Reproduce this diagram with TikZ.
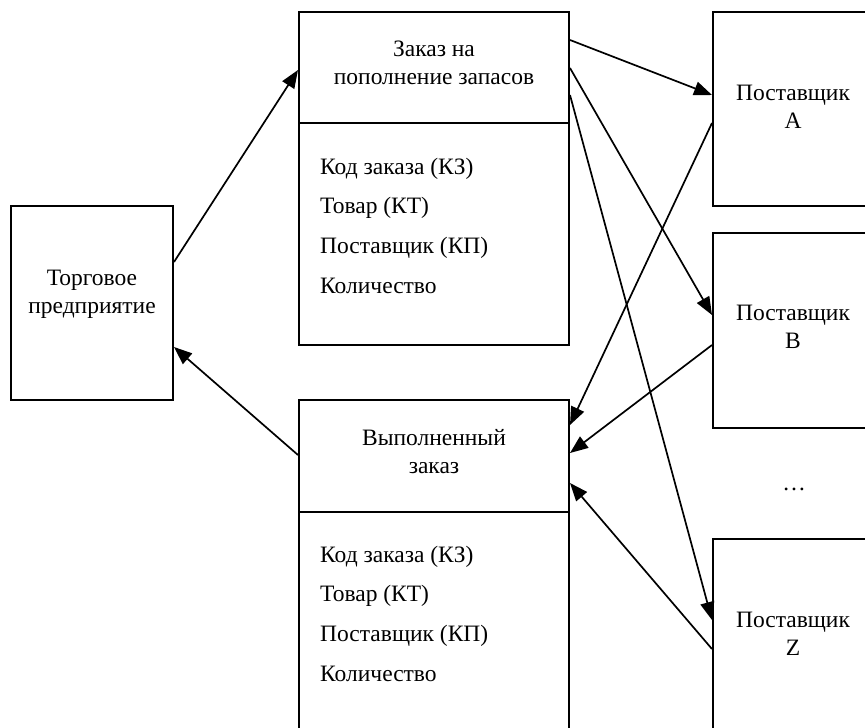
\documentclass[tikz,border=0pt]{standalone}
\usepackage{fontspec}
\setmainfont{Liberation Serif}
\usetikzlibrary{arrows.meta}
\begin{document}
\begin{tikzpicture}[x=1pt,y=-1pt,
  box/.style={draw,line width=2pt,inner sep=0pt,minimum width=#1},
  arr/.style={line width=1.7pt,-{Triangle[length=18pt,width=14pt]}},
  lbl/.style={font=\fontsize{23.5}{27.5}\selectfont,inner sep=0pt,anchor=base,align=center},
  lst/.style={font=\fontsize{23.5}{39.6}\selectfont,inner sep=0pt,anchor=base west,align=left}]
\useasboundingbox (0,0) rectangle (865,728);
\clip (0,0) rectangle (865,728);
% boxes
\node[box=162pt,minimum height=194pt] (trade) at (92,303) {};
\node[box=270pt,minimum height=333pt] (ord) at (434,178.5) {};
\node[box=270pt,minimum height=333pt] (done) at (434,566.5) {};
\node[box=160pt,minimum height=194pt] (A) at (793,109) {};
\node[box=160pt,minimum height=195pt] (B) at (793,330.5) {};
\node[box=160pt,minimum height=194pt] (Z) at (793,636) {};
\draw[line width=2pt] (ord.west |- 0,123) -- (ord.east |- 0,123);
\draw[line width=2pt] (done.west |- 0,512) -- (done.east |- 0,512);
% texts (anchored at the baseline of the last line)
\node[lbl] (tradet) at (92,313) {Торговое\\предприятие};
\node[lbl] (ordt) at (434,84) {Заказ на\\пополнение запасов};
\node[lst] (ordl) at (320,293) {Код заказа (КЗ)\\Товар (КТ)\\Поставщик (КП)\\Количество};
\node[lbl] (donet) at (434,473) {Выполненный\\заказ};
\node[lst] (donel) at (320,681) {Код заказа (КЗ)\\Товар (КТ)\\Поставщик (КП)\\Количество};
\node[lbl] (At) at (793,128) {Поставщик\\A};
\node[lbl] (Bt) at (793,348) {Поставщик\\B};
\node[lbl] (Zt) at (793,655) {Поставщик\\Z};
\node[lbl] (dots) at (794,490) {\dots};
% connectors
\draw[arr] (trade.east |- 0,262) -- (ord.west |- 0,70);
\draw[arr] (done.west |- 0,455) -- (trade.east |- 0,347);
\draw[arr] (ord.east |- 0,40) -- (A.west |- 0,95);
\draw[arr] (ord.east |- 0,68) -- (B.west |- 0,315);
\draw[arr] (ord.east |- 0,95) -- (Z.west |- 0,620);
\draw[arr] (A.west |- 0,123) -- (done.east |- 0,425);
\draw[arr] (B.west |- 0,345) -- (done.east |- 0,453);
\draw[arr] (Z.west |- 0,649) -- (done.east |- 0,483);
\end{tikzpicture}
\end{document}
